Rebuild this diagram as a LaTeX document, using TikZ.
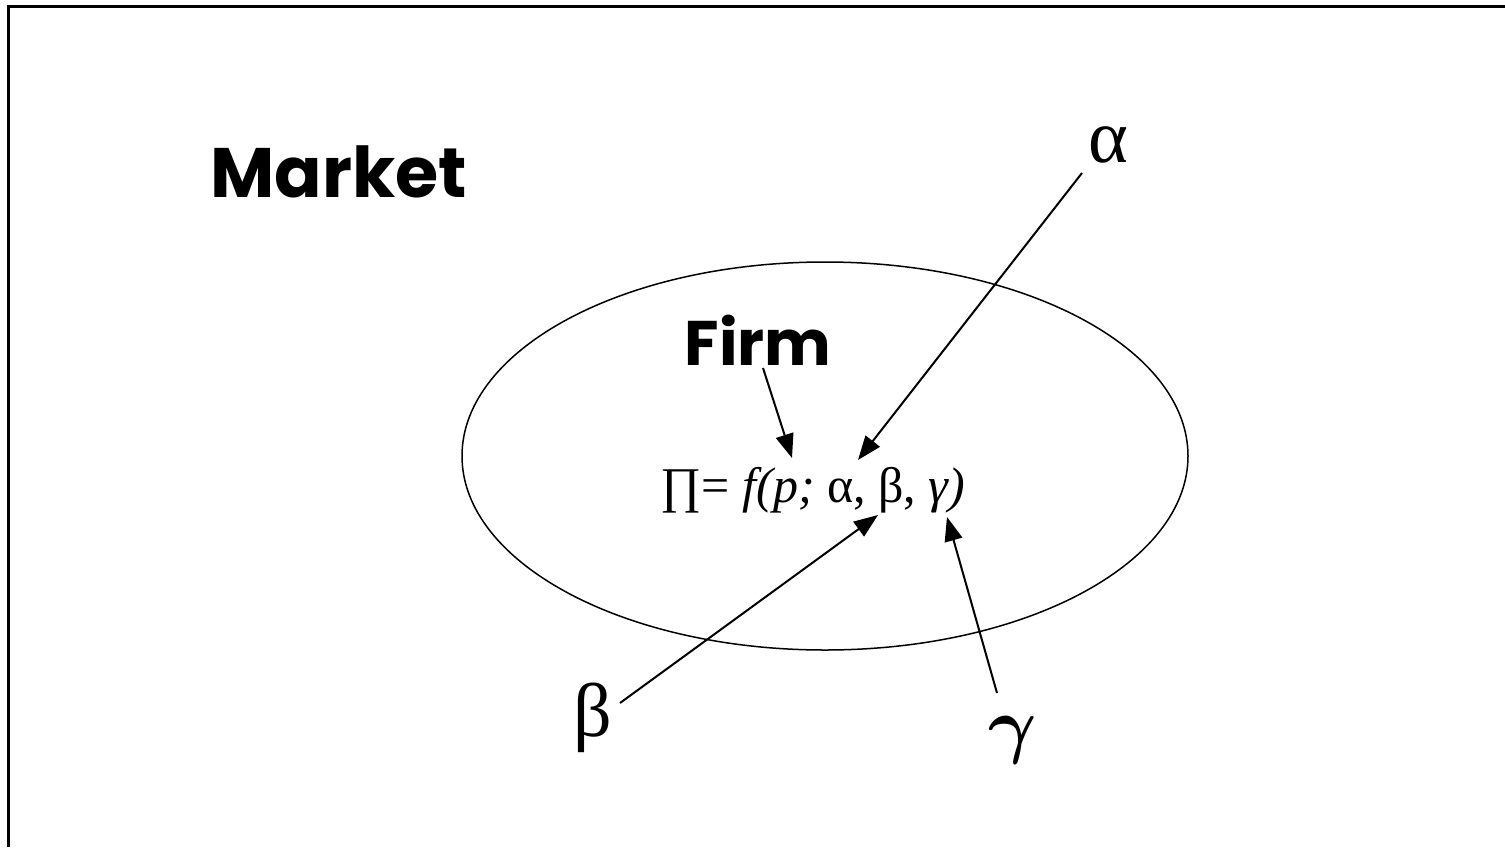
\documentclass[tikz,border=0pt]{standalone}
\usepackage{amsmath}
\usepackage{fontspec}
\usepackage{graphicx}
\setmainfont{Liberation Serif}
\newfontfamily\comicfont{Poppins}
\newfontfamily\greekfont{Liberation Serif}
\usetikzlibrary{arrows.meta,shapes.geometric}
\tikzset{
  conn/.style={line width=2pt,-{Triangle[length=24pt,width=18pt]}},
  title/.style={font=\comicfont\bfseries\fontsize{70}{80}\selectfont,inner sep=0pt},
  greek/.style={font=\greekfont\fontsize{76}{84}\selectfont,inner sep=0pt},
  formula/.style={font=\fontsize{50}{60}\selectfont,inner sep=0pt},
}
\begin{document}
\begin{tikzpicture}[x=1pt,y=-1pt]
\useasboundingbox (0,0) rectangle (1505,847);
\draw[line width=3pt] (8,847) -- (8,6) -- (1505,6);
\node[draw,ellipse,line width=1.5pt,minimum width=726pt,minimum height=388pt,inner sep=0pt] (firmellipse) at (825,456) {};
\node[title] (market) at (339,172) {Market};
\node[title,font=\comicfont\bfseries\fontsize{63}{70}\selectfont] (firm) at (758,340) {Firm};
\node[formula] (eq) at (813,490) {∏= \textit{f(p;} α, β, \textit{γ)}};
\node[greek] (alpha) at (1108,145) {α};
\node[greek] (beta) at (593,718) {β};
\node[inner sep=0pt] (gamma) at (1013,740) {\scalebox{7.4}{$\boldsymbol{\gamma}$}};
\coordinate (ta) at (1082,173);
\coordinate (ha) at (858,460);
\coordinate (tf) at (763,368);
\coordinate (hf) at (792,458);
\coordinate (tb) at (620,703);
\coordinate (hb) at (878,515);
\coordinate (tg) at (997,693);
\coordinate (hg) at (947,517);
\draw[conn] (ta) -- (ha);
\draw[conn] (tf) -- (hf);
\draw[conn] (tb) -- (hb);
\draw[conn] (tg) -- (hg);
\end{tikzpicture}
\end{document}
